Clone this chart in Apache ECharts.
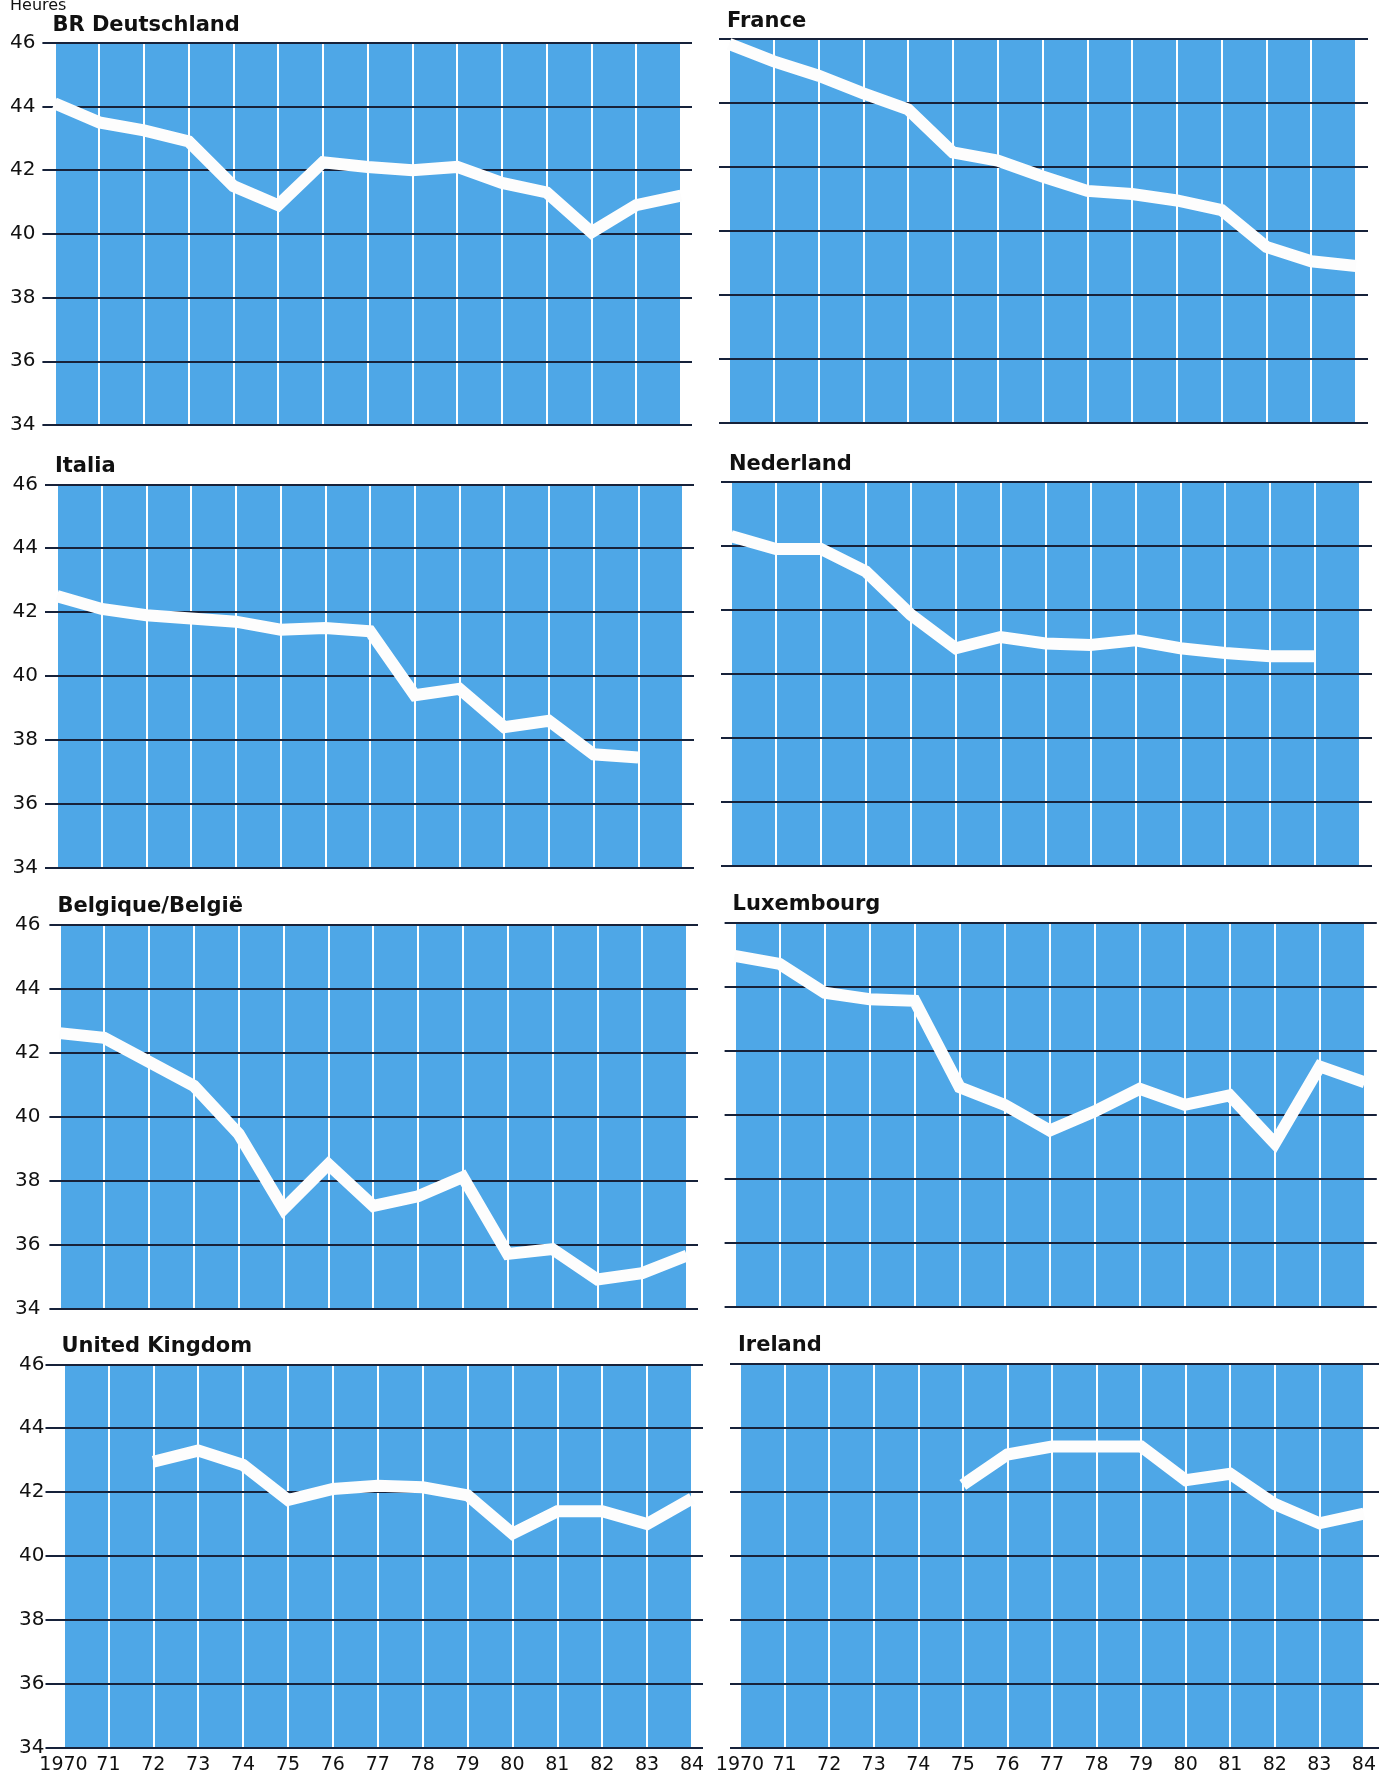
<!DOCTYPE html>
<html>
<head>
<meta charset="utf-8">
<script src="https://cdn.jsdelivr.net/npm/echarts@6/dist/echarts.min.js"></script>
<style>
html,body{margin:0;padding:0;background:#ffffff;}
#chart{width:1379px;height:1776px;}
</style>
</head>
<body>
<div id="chart"></div>
<script>
// ---- data (hours worked per week) ----
const years = ['1970','71','72','73','74','75','76','77','78','79','80','81','82','83','84'];
const yTicks = [34, 36, 38, 40, 42, 44, 46];
const countries = ['BR Deutschland','France','Italia','Nederland','Belgique/België','Luxembourg','United Kingdom','Ireland'];
const deutschland = [44.1, 43.5, 43.25, 42.9, 41.5, 40.9, 42.25, 42.1, 42.0, 42.1, 41.6, 41.3, 40.05, 40.9, 41.2];
const france      = [45.85, 45.3, 44.85, 44.3, 43.8, 42.45, 42.2, 41.7, 41.25, 41.15, 40.95, 40.65, 39.5, 39.05, 38.9];
const italia      = [42.5, 42.1, 41.9, 41.8, 41.7, 41.45, 41.5, 41.4, 39.4, 39.6, 38.4, 38.6, 37.55, 37.45, null];
const nederland   = [44.3, 43.9, 43.9, 43.2, 41.85, 40.8, 41.15, 40.95, 40.9, 41.05, 40.8, 40.65, 40.55, 40.55, null];
const belgique    = [42.6, 42.45, 41.7, 40.95, 39.45, 37.1, 38.5, 37.2, 37.5, 38.1, 35.7, 35.85, 34.9, 35.1, 35.65];
const luxembourg  = [44.95, 44.7, 43.8, 43.6, 43.55, 40.85, 40.3, 39.5, 40.1, 40.8, 40.3, 40.6, 39.1, 41.5, 41.0];
const unitedKingdom = [null, null, 42.95, 43.3, 42.85, 41.75, 42.1, 42.2, 42.15, 41.9, 40.7, 41.4, 41.4, 41.0, 41.8];
const ireland     = [null, null, null, null, null, 42.2, 43.15, 43.4, 43.4, 43.4, 42.35, 42.55, 41.6, 41.0, 41.3];
const seriesData = [deutschland, france, italia, nederland, belgique, luxembourg, unitedKingdom, ireland];

// ---- layout (pixels) : left, right, top, bottom, line extension left/right ----
const layout = [
  [54.4, 681, 42.7, 425, 12, 11],
  [729, 1356, 39, 422.7, 10, 12],
  [57, 683, 484.3, 867.7, 12, 11],
  [731, 1360, 481.7, 866, 10, 12],
  [59.4, 687, 924.3, 1308.3, 10, 11],
  [734.6, 1364.8, 922.3, 1306.7, 10, 12],
  [63.5, 692, 1364.3, 1747.7, 18, 11],
  [740, 1367, 1363.3, 1747.3, 10, 13]
];

const FONT = "'DejaVu Sans', 'Liberation Sans', sans-serif";
const BLUE = '#4ea7e7';
const INK = '#111111';
const GRIDLINE = '#17223a';

const grids = [], xAxes = [], yAxes = [], series = [], titles = [];
countries.forEach((name, i) => {
  const [l, r, t, b, el, er] = layout[i];
  const leftCol = (i % 2 === 0);
  const bottomRow = (i >= 6);
  grids.push({left: l, top: t, width: r - l, height: b - t, show: true,
    backgroundColor: BLUE, borderWidth: 0, z: 0, containLabel: false});
  grids.push({left: l - el, top: t, width: (r - l) + el + er, height: b - t,
    show: false, containLabel: false});
  xAxes.push({
    gridIndex: 2 * i, type: 'category', data: years, boundaryGap: false, z: 1,
    axisLine: {show: false}, axisTick: {show: false},
    axisLabel: {show: bottomRow, interval: 0, margin: 8, color: INK,
      fontSize: 19, fontFamily: FONT},
    splitLine: {show: true, interval: 0, lineStyle: {color: '#ffffff', width: 2}}
  });
  xAxes.push({gridIndex: 2 * i + 1, type: 'value', min: 0, max: 1, show: false});
  yAxes.push({
    gridIndex: 2 * i, type: 'value', min: yTicks[0], max: yTicks[yTicks.length - 1], interval: 2, z: 2,
    axisLine: {show: false}, axisTick: {show: false}, splitLine: {show: false},
    axisLabel: {show: leftCol, margin: 19, color: INK, fontSize: 20, fontFamily: FONT}
  });
  yAxes.push({
    gridIndex: 2 * i + 1, type: 'value', min: yTicks[0], max: yTicks[yTicks.length - 1], interval: 2, z: 2,
    axisLine: {show: false}, axisTick: {show: false}, axisLabel: {show: false},
    splitLine: {show: true, lineStyle: {color: GRIDLINE, width: 2}}
  });
  series.push({
    type: 'line', name: name, xAxisIndex: 2 * i, yAxisIndex: 2 * i,
    data: seriesData[i], symbol: 'none', connectNulls: false, z: 3, silent: true,
    lineStyle: {color: '#fdfdfd', width: 12, join: 'miter', cap: 'butt'}
  });
  titles.push({
    text: name, left: l - 2, top: t - 28, padding: 0,
    textStyle: {fontFamily: FONT, fontWeight: 'bold', fontSize: 21, color: INK}
  });
});

const chart = echarts.init(document.getElementById('chart'), null, {renderer: 'canvas', width: 1379, height: 1776});
chart.setOption({
  animation: false,
  backgroundColor: '#ffffff',
  title: titles,
  grid: grids,
  xAxis: xAxes,
  yAxis: yAxes,
  series: series,
  graphic: [{
    type: 'text', x: 10, y: 14,
    style: {text: 'Heures', fontFamily: FONT, fontSize: 16, fill: INK, verticalAlign: 'bottom', align: 'left'}
  }]
});
</script>
</body>
</html>
